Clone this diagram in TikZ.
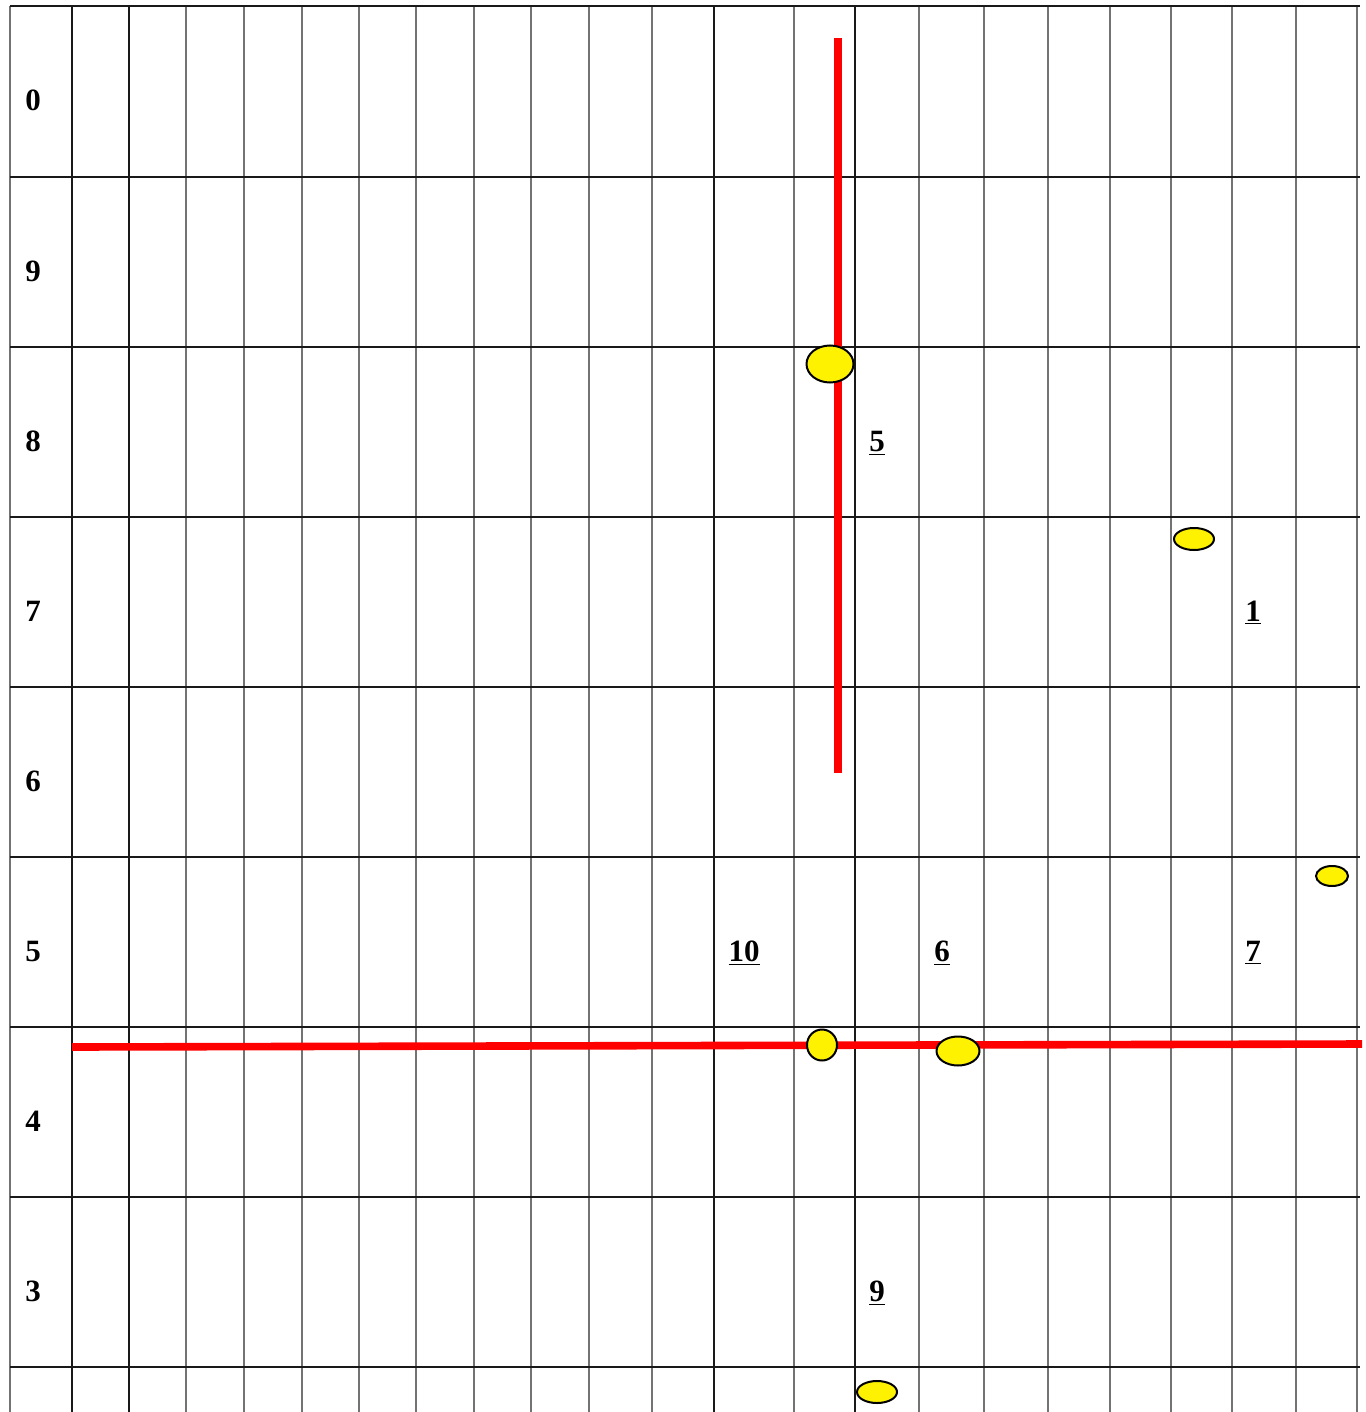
\documentclass[tikz,border=0pt]{standalone}
\usepackage{fontspec}
\setmainfont{Liberation Serif}
\usetikzlibrary{shapes.geometric}

\begin{document}
\begin{tikzpicture}[
  x=0.5pt, y=-0.5pt,
  gridln/.style={draw=black!55, line width=1pt},
  darkln/.style={draw=black!90, line width=1pt},
  redln/.style={draw=red, line width=3.8pt},
  lbl/.style={font=\fontsize{15.5}{18}\selectfont\bfseries, inner sep=0pt, anchor=base},
  dot/.style={ellipse, draw=black, fill=yellow, line width=1pt, inner sep=0pt},
]
\useasboundingbox (0,0) rectangle (1365,1412);
% grid
\foreach \x in {10,186,244,302,359,416,474,531,589,652,794,919,984,1048,1110,1171,1232,1296,1357}
  \draw[gridln] (\x,6) -- (\x,1412);
\foreach \x in {72,129,714,855}
  \draw[darkln] (\x,6) -- (\x,1412);
\foreach \y in {6,177,347,517,687,857,1027,1197,1367}
  \draw[darkln] (10,\y) -- (1360,\y);
% row numbers
\foreach \t [count=\i from 0] in {0,9,8,7,6,5,4,3}
  \node[lbl] (row\i) at (33,111+170*\i) {\t};
% red lines
\coordinate (vtop) at (838,38);
\coordinate (vbot) at (838,773);
\coordinate (hwest) at (72,1047);
\coordinate (heast) at (1362,1044);
\draw[redln] (vtop) -- (vbot);
\draw[redln] (hwest) -- (heast);
% yellow marks
\node[dot, minimum width=23.5pt, minimum height=18.5pt] (dA) at (830,364) {};
\node[dot, minimum width=20pt, minimum height=11pt] (dB) at (1194,539) {};
\node[dot, minimum width=16pt, minimum height=10pt] (dC) at (1332,876) {};
\node[dot, minimum width=15pt, minimum height=15.5pt] (dD) at (822,1045) {};
\node[dot, minimum width=21.5pt, minimum height=14.5pt] (dE) at (958,1051) {};
\node[dot, minimum width=20pt, minimum height=11pt] (dF) at (877,1392) {};
% numbers in cells
\node[lbl] (n5) at (877,451) {\underline{5}};
\node[lbl] (n1) at (1253,621) {\underline{1}};
\node[lbl] (n10) at (744,961) {\underline{10}};
\node[lbl] (n6) at (942,961) {\underline{6}};
\node[lbl] (n7) at (1253,961) {\underline{7}};
\node[lbl] (n9) at (877,1301) {\underline{9}};
\end{tikzpicture}
\end{document}
